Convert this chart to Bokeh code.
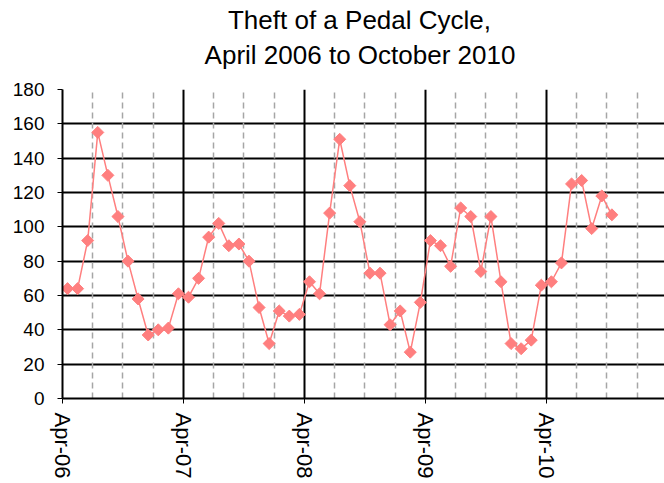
from math import pi
from bokeh.plotting import figure
from bokeh.layouts import column
from bokeh.models import Range1d, FixedTicker, Grid
from bokeh.core.properties import value
from bokeh.embed import file_html
from bokeh.resources import INLINE

# Monthly recorded thefts of a pedal cycle, April 2006 (index 0) to October 2010
months = list(range(55))
thefts = [64, 64, 92, 155, 130, 106, 80, 58, 37, 40, 41, 61,
          59, 70, 94, 102, 89, 90, 80, 53, 32, 51, 48, 49,
          68, 61, 108, 151, 124, 103, 73, 73, 43, 51, 27, 56,
          92, 89, 77, 111, 106, 74, 106, 68, 32, 29, 34, 66,
          68, 79, 125, 127, 99, 118, 107]
year_ticks = [0, 12, 24, 36, 48]
year_labels = ["Apr-06", "Apr-07", "Apr-08", "Apr-09", "Apr-10"]
y_ticks = list(range(0, 181, 20))
title_lines = ["Theft of a Pedal Cycle,", "April 2006 to October 2010"]

x = [m + 0.5 for m in months]
FONT = "Liberation Sans"
PINK = "#FF7F7F"
W = 664
TITLE_H = 79
LEFT, TOP = 62, 10

# ---- title strip: its frame is mapped to page pixels (y downwards) ----
t = figure(width=W, height=TITLE_H, x_range=Range1d(LEFT, W), y_range=Range1d(TITLE_H, TOP),
           x_axis_type=None, y_axis_type=None, output_backend="svg",
           toolbar_location=None, title_location=None,
           min_border_left=LEFT, min_border_right=0, min_border_top=TOP, min_border_bottom=0)
t.outline_line_color = None
t.text(x=[359, 359.5], y=[19.5, 54.5], text=title_lines, text_align="center",
       text_baseline="alphabetic", text_font=value(FONT), text_font_size="26px",
       text_color="black")

# ---- main chart ----
p = figure(width=W, height=483 - TITLE_H, x_range=Range1d(0, 59.72), y_range=Range1d(0, 180),
           output_backend="svg", toolbar_location=None, title_location=None,
           min_border_left=LEFT, min_border_right=0, min_border_bottom=85, min_border_top=TOP)
p.outline_line_color = None

for ax in (p.xaxis, p.yaxis):
    ax.axis_line_color = "black"
    ax.axis_line_width = 2
    ax.major_tick_line_color = "black"
    ax.major_tick_out = 5
    ax.major_tick_in = 0
    ax.minor_tick_line_color = None
    ax.major_label_text_font = FONT
    ax.major_label_text_color = "black"

p.xaxis.ticker = FixedTicker(ticks=year_ticks, minor_ticks=[])
p.xaxis.major_label_overrides = dict(zip(year_ticks, year_labels))
p.xaxis.major_label_orientation = "vertical"
p.xaxis.major_label_standoff = 9
p.xaxis.major_label_text_font_size = "22px"

p.yaxis.ticker = FixedTicker(ticks=y_ticks, minor_ticks=[])
p.yaxis.major_label_standoff = 13
p.yaxis.major_label_text_font_size = "19px"

p.ygrid.ticker = FixedTicker(ticks=y_ticks)
p.ygrid.grid_line_color = "black"
p.ygrid.grid_line_width = 2
p.xgrid.ticker = FixedTicker(ticks=year_ticks)
p.xgrid.grid_line_color = "black"
p.xgrid.grid_line_width = 2
quarter_ticks = [q for q in range(3, 60, 3) if q % 12]
qgrid = Grid(dimension=0, ticker=FixedTicker(ticks=quarter_ticks),
             grid_line_color="#A6A6A6", grid_line_width=1.5, grid_line_dash="6 4")
p.add_layout(qgrid)

p.line(x, thefts, line_color=PINK, line_width=1.5)
p.scatter(x, thefts, marker="square", angle=pi / 4, size=8.5,
          fill_color=PINK, line_color=PINK)

layout = column(t, p, spacing=0)
open("out.html", "w").write(file_html(layout, INLINE))
